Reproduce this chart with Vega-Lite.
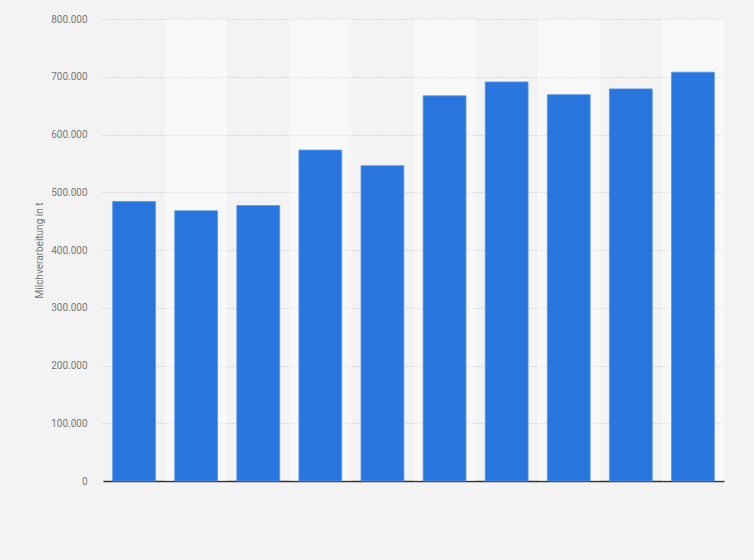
{
  "$schema": "https://vega.github.io/schema/vega-lite/v6.json",
  "autosize": "none",
  "width": 621,
  "height": 462,
  "padding": {"left": 103, "top": 19, "right": 30, "bottom": 79},
  "background": "#f3f3f3",
  "config": {
    "view": {"stroke": null},
    "font": "Roboto"
  },
  "data": {
    "values": [
      {"year": 2010, "value": 484000},
      {"year": 2011, "value": 468000},
      {"year": 2012, "value": 477000},
      {"year": 2013, "value": 573000},
      {"year": 2014, "value": 546000},
      {"year": 2015, "value": 667000},
      {"year": 2016, "value": 691000},
      {"year": 2017, "value": 669000},
      {"year": 2018, "value": 679000},
      {"year": 2019, "value": 708000}
    ]
  },
  "encoding": {
    "x": {
      "field": "year",
      "type": "ordinal",
      "scale": {"paddingInner": 0.31, "paddingOuter": 0.155},
      "axis": {
        "title": null,
        "labels": false,
        "ticks": false,
        "domainColor": "#333333",
        "domainWidth": 1.5
      }
    }
  },
  "layer": [
    {
      "mark": {"type": "bar", "width": {"band": 1.4493}, "color": "#ffffff"},
      "encoding": {
        "y": {"datum": 800000, "type": "quantitative"},
        "y2": {"datum": 0},
        "opacity": {
          "condition": {"test": "datum.year % 2 == 1", "value": 0.4},
          "value": 0
        }
      }
    },
    {
      "mark": {"type": "bar", "color": "#2876dd", "stroke": "#5b97e6", "strokeWidth": 0.8},
      "encoding": {
        "y": {
          "field": "value",
          "type": "quantitative",
          "scale": {"domain": [0, 800000]},
          "axis": {
            "title": "Milchverarbeitung in t",
            "titleFont": "Roboto",
            "titleFontSize": 10,
            "titleFontWeight": "normal",
            "titleColor": "#777777",
            "titlePadding": 6,
            "values": [0, 100000, 200000, 300000, 400000, 500000, 600000, 700000, 800000],
            "labelExpr": "replace(format(datum.value, ','), /,/g, '.')",
            "labelFont": "Roboto",
            "labelFontSize": 10,
            "labelColor": "#777777",
            "labelPadding": 16,
            "ticks": false,
            "domain": false,
            "grid": true,
            "gridColor": "#bdbdbd",
            "gridDash": [1, 2]
          }
        }
      }
    }
  ]
}
